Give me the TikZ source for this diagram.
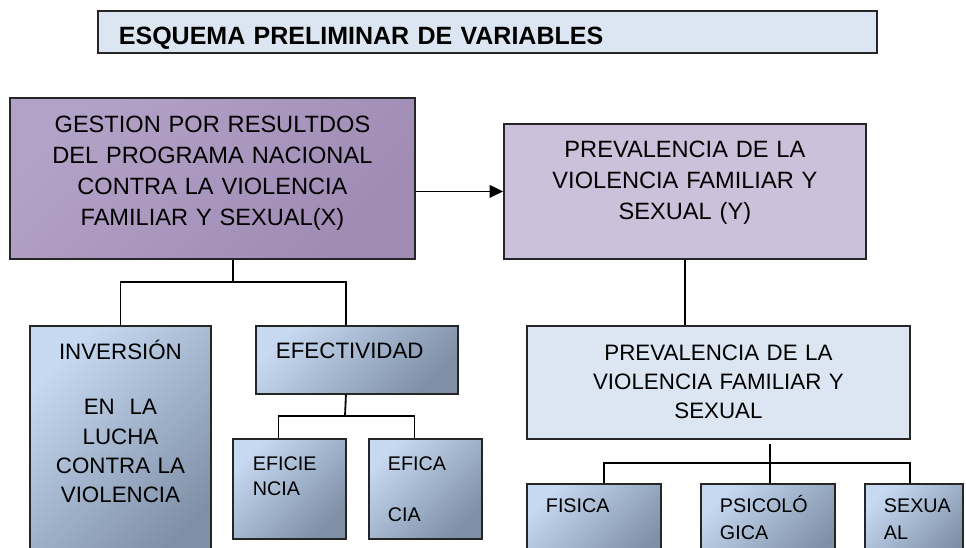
\documentclass[tikz,border=0pt]{standalone}
\usepackage{fontspec}
\setmainfont{Liberation Sans}
\usepackage{xcolor}
\usepackage{tikz}
\usetikzlibrary{shapes,arrows,positioning,calc,arrows.meta}

\definecolor{fondoazul}{HTML}{DCE6F2}
\definecolor{lilaclaro}{HTML}{CCC1DA}
\definecolor{lilaA}{HTML}{B3A2C8}
\definecolor{lilaB}{HTML}{9F8BB4}
\definecolor{azulA}{HTML}{C6D9F1}
\definecolor{azulB}{HTML}{7E8FA6}

\tikzset{
  caja/.style={draw=black!85, line width=1.4pt, anchor=north west, inner ysep=0pt},
  alto/.style 2 args={text height=#1, text depth=#2},
  degradado/.style 2 args={top color=#1, bottom color=#2, shading angle=45},
  rama/.style={line width=1.35pt}
}

\begin{document}
\begin{tikzpicture}[x=0.75pt,y=-0.75pt]

        \def\fuenteX{\fontsize{17.7}{23.25}\selectfont}
        \def\fuenteM{\fontsize{16.75}{22}\selectfont}
        \def\fuenteS{\fontsize{14.8}{18.75}\selectfont}

        \useasboundingbox (0,0) rectangle (966,548);

        \node[caja, fill=fondoazul, alto={25.2pt}{6.3pt}, text width=552.75pt, inner xsep=15.75pt, align=left, font=\bfseries\fontsize{18.75}{22}\selectfont] (titulo) at (97,10) {ESQUEMA PRELIMINAR DE VARIABLES};

        \node[caja, degradado={lilaA}{lilaB}, alto={26.2pt}{94.55pt}, text width=295.75pt, inner xsep=4pt, align=center, font=\fuenteX] (gest) at (9,97) {GESTION POR RESULTDOS\\DEL PROGRAMA NACIONAL\\CONTRA LA VIOLENCIA\\FAMILIAR Y SEXUAL(X)};
        \node[caja, fill=lilaclaro, alto={24.9pt}{76.35pt}, text width=263.5pt, inner xsep=4pt, align=center, font=\fuenteX] (ybox) at (503,123) {PREVALENCIA DE LA\\VIOLENCIA FAMILIAR Y\\SEXUAL (Y)};

        \node[caja, degradado={azulA}{azulB}, alto={25.3pt}{154.7pt}, text width=127.75pt, inner xsep=4pt, align=center, font=\fuenteM] (inv) at (29,325) {INVERSIÓN\\[19.25pt]EN\ \ LA\\LUCHA\\CONTRA LA\\VIOLENCIA};
        \node[caja, degradado={azulA}{azulB}, alto={24.5pt}{26.5pt}, text width=121.5pt, inner xsep=15pt, align=left, font=\fuenteM] (efec) at (255,325) {EFECTIVIDAD};
        \node[caja, degradado={azulA}{azulB}, alto={23.35pt}{51.65pt}, text width=54.75pt, inner xsep=15pt, align=left, font=\fuenteS] (efic) at (232,438) {EFICIE\\NCIA};
        \node[caja, degradado={azulA}{azulB}, alto={23.35pt}{51.65pt}, text width=56.25pt, inner xsep=14.25pt, align=left, font=\fuenteS] (efca) at (368,438) {EFICA\\[19.75pt]CIA};

        \node[caja, fill=fondoazul, alto={25.7pt}{59.05pt}, text width=279.25pt, inner xsep=4pt, align=center, font=\fuenteM] (prev) at (526,325) {PREVALENCIA DE LA\\VIOLENCIA FAMILIAR Y\\SEXUAL};
        \node[caja, degradado={azulA}{azulB}, alto={21.5pt}{40pt}, text width=72pt, inner xsep=14.25pt, align=left, font=\fuenteS] (fis) at (526,483) {FISICA};
        \node[caja, degradado={azulA}{azulB}, alto={21.5pt}{40pt}, text width=72pt, inner xsep=14.25pt, align=left, font=\fuenteS] (psi) at (700,483) {PSICOLÓ\\[1.5pt]GICA};
        \node[caja, degradado={azulA}{azulB}, alto={21.5pt}{40pt}, text width=45pt, inner xsep=14.25pt, align=left, font=\fuenteS] (sex) at (864,483) {SEXUA\\[1.5pt]AL};

        \draw[rama, -{Triangle[length=10pt,width=9.5pt]}] (gest.east |- ybox.west) -- (ybox.west);

        \coordinate (bx) at (233,282);
        \draw[rama] (gest.south -| bx) -- (bx);
        \draw[rama] (inv.north) |- (bx) -| ([xshift=-8.25pt]efec.north);

        \coordinate (by) at (345,416);
        \draw[rama] ([xshift=-8.25pt]efec.south) -- (by);
        \draw[rama] ([xshift=-8.25pt]efic.north) |- (by) -| ([xshift=-8.25pt]efca.north);

        \draw[rama] (ybox.south) -- (ybox.south |- prev.north);

        \coordinate (bz) at (770,463);
        \draw[rama] ([yshift=-3pt]prev.south -| bz) -- (bz);
        \draw[rama] ([xshift=7.5pt]fis.north) |- (bz) -| ([xshift=-3pt]sex.north);
        \draw[rama] (bz) -- (bz |- psi.north);

\end{tikzpicture}
\end{document}
